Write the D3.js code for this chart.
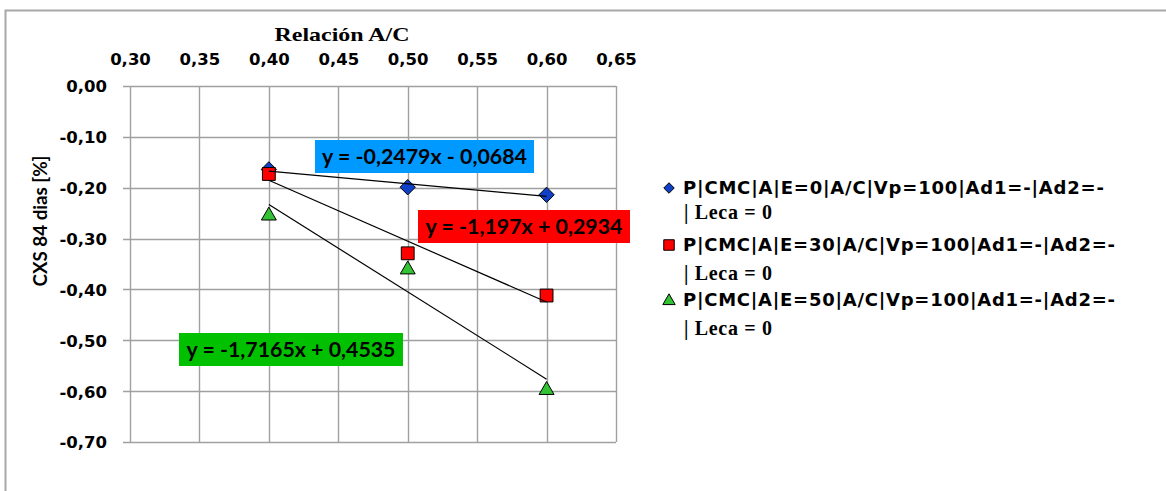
<!DOCTYPE html>
<html>
<head>
<meta charset="utf-8">
<script src="https://cdn.jsdelivr.net/npm/d3@7"></script>
<style>
  html, body { margin: 0; padding: 0; background: #fff; }
  svg { display: block; }
</style>
</head>
<body>
<svg id="chart" width="1166" height="491"></svg>
<script>
// Water/cement ratio (A/C) values
const ratios = [0.40, 0.50, 0.60];

// Shrinkage at 84 days [%] for each Leca replacement level
const seriesE0 = [-0.164, -0.199, -0.214];
const seriesE30 = [-0.173, -0.329, -0.412];
const seriesE50 = [-0.255, -0.361, -0.598];

// Linear trend coefficients (slope, intercept) and their labels
const trendE0 = [-0.2479, -0.0684];
const trendE30 = [-1.197, 0.2934];
const trendE50 = [-1.7165, 0.4535];
const equationLabels = ["y = -0,2479x - 0,0684", "y = -1,197x + 0,2934", "y = -1,7165x + 0,4535"];

const seriesNames = [
  "P|CMC|A|E=0|A/C|Vp=100|Ad1=-|Ad2=-",
  "P|CMC|A|E=30|A/C|Vp=100|Ad1=-|Ad2=-",
  "P|CMC|A|E=50|A/C|Vp=100|Ad1=-|Ad2=-"
];
const legendSecondLine = "| Leca = 0";

const xTicks = [0.30, 0.35, 0.40, 0.45, 0.50, 0.55, 0.60, 0.65];
const yTicks = [0.00, -0.10, -0.20, -0.30, -0.40, -0.50, -0.60, -0.70];

const svg = d3.select("#chart");
const fmt = v => d3.format(".2f")(v).replace(".", ",").replace("−", "-");

const plot = { left: 130, right: 616, top: 86, bottom: 442 };
const x = d3.scaleLinear().domain([0.30, 0.65]).range([plot.left, plot.right]);
const y = d3.scaleLinear().domain([0.00, -0.70]).range([plot.top, plot.bottom]);

const gridColor = "#a0a0a0";

// Chart frame
svg.append("rect")
  .attr("x", 5.5).attr("y", 10.5)
  .attr("width", 1200).attr("height", 600)
  .attr("fill", "#fff").attr("stroke", "#a8a8a8").attr("stroke-width", 2);

// Gridlines
svg.append("g").selectAll("line").data(yTicks).join("line")
  .attr("x1", plot.left - 7).attr("x2", plot.right)
  .attr("y1", d => Math.round(y(d)) + 0.5).attr("y2", d => Math.round(y(d)) + 0.5)
  .attr("stroke", gridColor).attr("stroke-width", 1.4);
svg.append("g").selectAll("line").data(xTicks).join("line")
  .attr("x1", d => Math.round(x(d)) + 0.5).attr("x2", d => Math.round(x(d)) + 0.5)
  .attr("y1", plot.top).attr("y2", plot.bottom)
  .attr("stroke", gridColor).attr("stroke-width", 1.4);

// Axis tick labels via d3 axes (lines hidden, text styled)
const xAxis = svg.append("g")
  .attr("transform", `translate(0,${plot.top - 21})`)
  .call(d3.axisTop(x).tickValues(xTicks).tickFormat(fmt).tickSize(0).tickPadding(0));
xAxis.select(".domain").remove();
xAxis.selectAll("text")
  .attr("font-family", "'DejaVu Sans', Verdana, sans-serif")
  .attr("font-weight", "bold").attr("font-size", 16.5).attr("fill", "#000")
  .attr("dy", 0);

const yAxis = svg.append("g")
  .attr("transform", `translate(${plot.left - 23},0)`)
  .call(d3.axisLeft(y).tickValues(yTicks).tickFormat(fmt).tickSize(0).tickPadding(0));
yAxis.select(".domain").remove();
yAxis.selectAll("text")
  .attr("font-family", "'DejaVu Sans', Verdana, sans-serif")
  .attr("font-weight", "bold").attr("font-size", 16.5).attr("fill", "#000")
  .attr("dy", "0.36em");

// Axis titles
svg.append("text")
  .attr("x", 342).attr("y", 41).attr("text-anchor", "middle")
  .attr("font-family", "'Liberation Serif', 'Times New Roman', serif")
  .attr("font-weight", "bold").attr("font-size", 19)
  .attr("textLength", 135).attr("lengthAdjust", "spacingAndGlyphs")
  .text("Relación A/C");

svg.append("text")
  .attr("transform", "translate(47,221) rotate(-90)")
  .attr("text-anchor", "middle")
  .attr("font-family", "Lato, 'Liberation Sans', sans-serif")
  .attr("font-weight", "bold").attr("font-size", 18)
  .attr("textLength", 131).attr("lengthAdjust", "spacingAndGlyphs")
  .text("CXS 84 dias [%]");

// Marker shapes
const series = [
  { values: seriesE0, trend: trendE0, symbol: d3.symbolDiamond2, fill: "#1040c8", size: 150, legendSize: 70 },
  { values: seriesE30, trend: trendE30, symbol: d3.symbolSquare2, fill: "#ff0000", size: 210, legendSize: 140 },
  { values: seriesE50, trend: trendE50, symbol: d3.symbolTriangle2, fill: "#33c233", size: 160, legendSize: 110 }
];

const markers = svg.append("g");
series.forEach(s => {
  markers.selectAll(null).data(ratios.map((r, i) => [r, s.values[i]])).join("path")
    .attr("transform", d => `translate(${x(d[0])},${y(d[1])})`)
    .attr("d", d3.symbol(s.symbol, s.size))
    .attr("fill", s.fill).attr("stroke", "#000").attr("stroke-width", 1);
});

// Trend lines from the fitted equations
const trends = svg.append("g");
series.forEach(s => {
  const xs = [d3.min(ratios), d3.max(ratios)];
  trends.append("line")
    .attr("x1", x(xs[0])).attr("y1", y(s.trend[0] * xs[0] + s.trend[1]))
    .attr("x2", x(xs[1])).attr("y2", y(s.trend[0] * xs[1] + s.trend[1]))
    .attr("stroke", "#000").attr("stroke-width", 1.2);
});

// Equation labels
const eqBoxes = [
  { x0: 315, y0: 140, w: 219, h: 33, fill: "#0099ff", tw: 205 },
  { x0: 418, y0: 210, w: 212, h: 33, fill: "#ff0000", tw: 197 },
  { x0: 179, y0: 333, w: 224, h: 33, fill: "#00c000", tw: 209 }
];
eqBoxes.forEach((b, i) => {
  svg.append("rect").attr("x", b.x0).attr("y", b.y0).attr("width", b.w).attr("height", b.h)
    .attr("fill", b.fill);
  svg.append("text")
    .attr("x", b.x0 + (b.w - b.tw) / 2).attr("y", b.y0 + b.h / 2).attr("dy", "0.36em")
    .attr("font-family", "Lato, 'Liberation Sans', sans-serif")
    .attr("font-weight", "bold").attr("font-size", 21)
    .attr("textLength", b.tw).attr("lengthAdjust", "spacingAndGlyphs")
    .attr("fill", "#000")
    .text(equationLabels[i]);
});

// Legend
const legendRows = [
  { y1: 188, y2: 212, w: 421 },
  { y1: 245, y2: 273, w: 432 },
  { y1: 300, y2: 328, w: 432 }
];
const legend = svg.append("g");
series.forEach((s, i) => {
  const r = legendRows[i];
  legend.append("path")
    .attr("transform", `translate(669,${r.y1 + (i === 2 ? 1 : 0)})`)
    .attr("d", d3.symbol(s.symbol, s.legendSize))
    .attr("fill", s.fill).attr("stroke", "#000").attr("stroke-width", 1);
  legend.append("text")
    .attr("x", 683).attr("y", r.y1).attr("dy", "0.36em")
    .attr("font-family", "'DejaVu Sans', Verdana, sans-serif")
    .attr("font-weight", "bold").attr("font-size", 18)
    .attr("textLength", r.w).attr("lengthAdjust", "spacing")
    .text(seriesNames[i]);
  legend.append("text")
    .attr("x", 684).attr("y", r.y2).attr("dy", "0.33em")
    .attr("font-family", "'Liberation Serif', 'Times New Roman', serif")
    .attr("font-weight", "bold").attr("font-size", 20)
    .attr("textLength", 88).attr("lengthAdjust", "spacing")
    .text(legendSecondLine);
});
</script>
</body>
</html>
